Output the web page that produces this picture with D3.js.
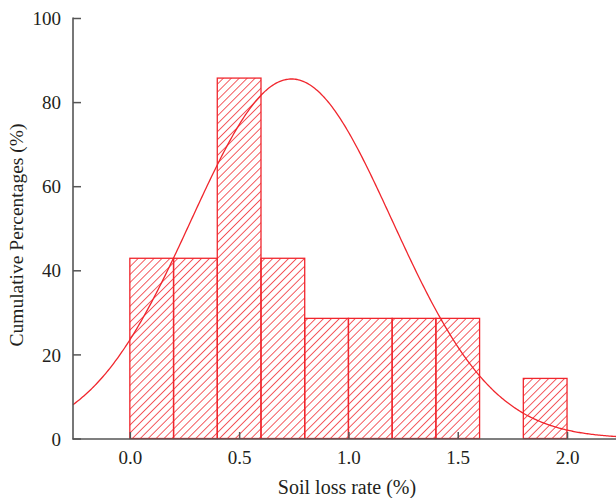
<!DOCTYPE html>
<html><head><meta charset="utf-8">
<script src="https://cdn.jsdelivr.net/npm/d3@7"></script>
<style>body{margin:0;background:#fff}svg{display:block}text{font-family:"Liberation Serif","DejaVu Serif",serif;fill:#231f20}</style>
</head><body><svg id="c" width="616" height="498"></svg>
<script>
const binStarts = [0.0, 0.2, 0.4, 0.6, 0.8, 1.0, 1.2, 1.4, 1.8];
const binEnds   = [0.2, 0.4, 0.6, 0.8, 1.0, 1.2, 1.4, 1.6, 2.0];
const binValues = [42.86, 42.86, 85.71, 42.86, 28.57, 28.57, 28.57, 28.57, 14.29];
const xTicks = [0.0, 0.5, 1.0, 1.5, 2.0];
const yTicks = [0, 20, 40, 60, 80, 100];
const fitMean = 0.74, fitSd = 0.46, fitPeak = 85.5;

const svg = d3.select("#c");
const x = d3.scaleLinear().domain([-0.26, 2.224]).range([73, 616]);
const y = d3.scaleLinear().domain([0, 100]).range([438.5, 18]);
const red = "#f0262d";

const defs = svg.append("defs");
const pat = defs.append("pattern").attr("id","hatch").attr("patternUnits","userSpaceOnUse")
  .attr("width",5.6).attr("height",5.6).attr("patternTransform","rotate(45)");
pat.append("line").attr("x1",0).attr("y1",0).attr("x2",0).attr("y2",5.6)
  .attr("stroke",red).attr("stroke-width",1.5);

const bins = binStarts.map((s,i)=>({s, e: binEnds[i], v: binValues[i]}));
svg.append("g").selectAll("rect").data(bins).join("rect")
  .attr("x", d=>x(d.s)).attr("width", d=>x(d.e)-x(d.s))
  .attr("y", d=>y(d.v)).attr("height", d=>y(0)-y(d.v))
  .attr("fill","url(#hatch)").attr("stroke",red).attr("stroke-width",1.3);

// fitted normal curve
const xs = d3.range(0, 401).map(i => -0.26 + i*(2.224+0.26)/400);
const line = d3.line().x(d=>x(d)).y(d=>y(fitPeak*Math.exp(-((d-fitMean)**2)/(2*fitSd*fitSd))));
svg.append("path").datum(xs).attr("d", line).attr("fill","none").attr("stroke",red).attr("stroke-width",1.3);

// axes
const axisColor = "#555";
const yAxis = svg.append("g").attr("transform","translate(73,0)")
  .call(d3.axisRight(y).tickValues(yTicks).tickSize(8).tickFormat(d3.format("d")));
yAxis.select(".domain").remove();
yAxis.selectAll("line").attr("stroke",axisColor).attr("stroke-width",1.5);
yAxis.selectAll("text").attr("x",-12).attr("text-anchor","end").attr("font-size",19).attr("dy","0.35em");
svg.append("line").attr("x1",73).attr("x2",73).attr("y1",17.5).attr("y2",439.5).attr("stroke",axisColor).attr("stroke-width",1.6);

const xAxis = svg.append("g").attr("transform","translate(0,439)")
  .call(d3.axisTop(x).tickValues(xTicks).tickSize(7).tickFormat(d3.format(".1f")));
xAxis.select(".domain").remove();
xAxis.selectAll("line").attr("stroke",axisColor).attr("stroke-width",1.5);
xAxis.selectAll("text").attr("y",25).attr("dy",0).attr("font-size",19).attr("text-anchor","middle");
svg.append("line").attr("x1",72.5).attr("x2",616).attr("y1",439).attr("y2",439).attr("stroke",axisColor).attr("stroke-width",1.6);

svg.append("text").attr("x",347).attr("y",494).attr("text-anchor","middle").attr("font-size",20).text("Soil loss rate (%)");
svg.append("text").attr("transform","translate(23,235) rotate(-90)").attr("text-anchor","middle").attr("font-size",19.5).text("Cumulative Percentages (%)");
</script></body></html>
